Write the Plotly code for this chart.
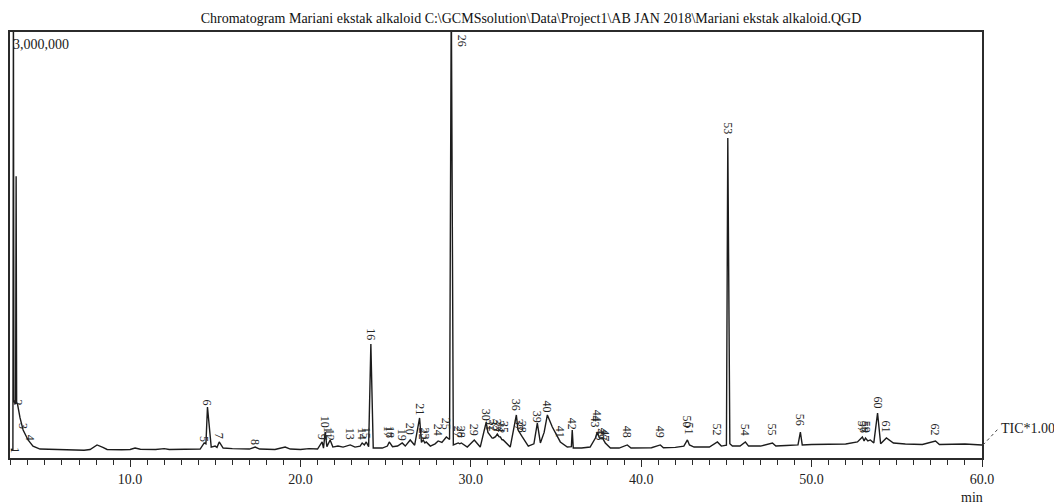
import plotly.graph_objects as go

# ---------------- data ----------------
title_text = ("Chromatogram Mariani ekstak alkaloid C:\\GCMSsolution\\Data\\Project1"
              "\\AB JAN 2018\\Mariani ekstak alkaloid.QGD")
full_scale = 3000000
x_range = [2.95, 60.0]
x_tick_values = [10, 20, 30, 40, 50, 60]
x_tick_labels = ["10.0", "20.0", "30.0", "40.0", "50.0", "60.0"]

trace_time = [
    3.00, 3.12, 3.15, 3.18, 3.28, 3.31, 3.34, 3.39, 3.54, 3.72, 4.01, 4.30, 4.71,
    5.5, 6.5, 7.3, 7.65, 8.06, 8.4, 8.65, 9.5, 10.0, 10.29, 10.6, 11.5, 12.0, 12.3,
    13.2, 13.6, 14.11, 14.35, 14.45, 14.54, 14.76, 14.99, 15.1, 15.23, 15.46, 16.0,
    16.5, 17.0, 17.34, 17.6, 18.5, 19.1, 19.4, 20.0, 20.5, 21.0, 21.27, 21.35, 21.45,
    21.55, 21.74, 21.9, 22.2, 22.5, 22.92, 23.2, 23.5, 23.62, 23.75, 23.86, 24.0,
    24.13, 24.27, 24.8, 25.1, 25.21, 25.4, 25.7, 25.97, 26.15, 26.44, 26.7, 26.99,
    27.1, 27.20, 27.3, 27.38, 27.62, 27.9, 28.08, 28.3, 28.56, 28.75, 28.85, 28.97,
    29.26, 29.35, 29.44, 29.79, 30.20, 30.55, 30.90, 31.0, 31.14, 31.25, 31.32, 31.45,
    31.55, 31.65, 31.73, 31.82, 31.90, 32.31, 32.67, 32.76, 32.84, 32.95, 33.02, 33.37,
    33.7, 33.90, 34.08, 34.3, 34.49, 34.78, 35.07, 35.25, 35.66, 35.9, 35.95, 36.01,
    36.5, 37.0, 37.31, 37.42, 37.55, 37.72, 37.89, 38.19, 38.7, 39.18, 39.4, 40.0,
    40.6, 41.12, 41.3, 42.0, 42.5, 42.71, 42.83, 43.1, 44.0, 44.47, 44.7, 45.0, 45.08,
    45.2, 45.35, 45.8, 46.11, 46.3, 47.0, 47.70, 47.9, 48.5, 49.2, 49.34, 49.45, 50.0,
    51.0, 52.0, 52.69, 52.98, 53.08, 53.16, 53.3, 53.45, 53.65, 53.87, 54.05, 54.39,
    54.80, 55.5, 56.5, 57.27, 57.5, 58.5, 59.0, 60.0,
]
trace_intensity = [
    60000, 60000, 3300000, 400000, 380000, 1985000, 390000, 380000, 282000, 197000,
    127000, 84000, 63000,
    60000, 58000, 55000, 60000, 92000, 75000, 60000, 58000, 60000, 70000, 62000, 60000,
    66000, 60000,
    63000, 60000, 63000, 106000, 100000, 359000, 77000, 84000, 75000, 113000, 70000,
    66000,
    63000, 63000, 77000, 63000, 60000, 77000, 63000, 60000, 66000, 63000, 113000,
    70000, 183000,
    80000, 127000, 77000, 84000, 77000, 92000, 77000, 84000, 106000, 92000, 113000,
    80000,
    803000, 70000, 70000, 84000, 113000, 80000, 84000, 106000, 84000, 127000, 90000,
    282000,
    110000, 127000, 106000, 113000, 84000, 100000, 120000, 110000, 148000, 130000,
    3300000, 92000,
    106000, 100000, 106000, 77000, 127000, 77000, 253000, 180000, 162000, 140000,
    141000, 150000,
    169000, 150000, 148000, 130000, 127000, 77000, 303000, 200000, 183000, 160000,
    148000, 84000,
    100000, 246000, 106000, 180000, 303000, 218000, 148000, 113000, 77000, 80000,
    197000, 70000,
    70000, 77000, 141000, 183000, 140000, 141000, 106000, 70000, 70000, 92000, 70000,
    70000,
    72000, 92000, 72000, 75000, 84000, 127000, 92000, 77000, 77000, 113000, 84000,
    90000, 2253000,
    100000, 84000, 84000, 113000, 84000, 84000, 106000, 84000, 88000, 92000, 183000,
    92000, 95000,
    99000, 99000, 113000, 148000, 120000, 141000, 120000, 127000, 106000, 317000,
    100000, 141000,
    106000, 99000, 95000, 120000, 95000, 95000, 99000, 92000,
]

peak_ids = list(range(1, 63))
label_times = [
    3.24, 3.39, 3.72, 4.13, 14.33, 14.54, 15.23, 17.34, 21.27, 21.45,
    21.62, 21.74, 22.92, 23.62, 23.86, 24.13, 25.15, 25.25, 25.97, 26.44,
    26.99, 27.20, 27.33, 28.08, 28.56, 29.50, 29.26, 29.44, 30.20, 30.90,
    31.14, 31.32, 31.55, 31.73, 31.90, 32.67, 32.84, 33.02, 33.90, 34.49,
    35.25, 35.95, 37.31, 37.42, 37.60, 37.72, 37.85, 39.18, 41.12, 42.71,
    42.83, 44.47, 45.08, 46.11, 47.70, 49.34, 52.98, 53.08, 53.20, 53.87,
    54.39, 57.27,
]
label_heights = [
    20000, 359000, 190000, 106000, 99000, 352000, 120000, 77000, 113000, 197000,
    120000, 106000, 113000, 113000, 120000, 817000, 127000, 127000, 106000, 148000,
    289000, 113000, 113000, 141000, 183000, 3000000, 127000, 127000, 141000, 246000,
    176000, 170000, 176000, 165000, 160000, 317000, 176000, 162000, 232000, 303000,
    127000, 183000, 197000, 240000, 106000, 112000, 106000, 127000, 127000, 197000,
    148000, 141000, 2267000, 141000, 141000, 211000, 162000, 162000, 162000, 338000,
    162000, 141000,
]

# ---------------- figure ----------------
serif = "Liberation Serif"
ink = "#2b2b2b"
W, H = 1054, 504
ml, mr, mt, mb = 10, 72, 32, 46
pw, ph = W - ml - mr, H - mt - mb

fig = go.Figure()
fig.add_trace(go.Scatter(
    x=trace_time, y=trace_intensity, mode="lines",
    line=dict(color="#1c1c1c", width=1.4), hoverinfo="skip", showlegend=False,
))

for pid, t, h in zip(peak_ids, label_times, label_heights):
    at_top = h >= full_scale
    fig.add_annotation(
        x=t, y=h, xref="x", yref="y", text=str(pid), textangle=90,
        showarrow=False, xanchor="center",
        yanchor="top" if at_top else "bottom",
        yshift=-1 if at_top else 0,
        font=dict(family=serif, size=12, color="#252525"),
    )

# y full-scale label
fig.add_annotation(
    x=0, y=1, xref="paper", yref="paper", text="3,000,000", showarrow=False,
    xanchor="left", yanchor="top", xshift=1, yshift=-3,
    font=dict(family=serif, size=14, color="#1a1a1a"),
)

# TIC*1.00 marker with dotted leader
def px_to_paper(px, py):
    return (px - ml) / pw, (H - mb - py) / ph

tx0, ty0 = px_to_paper(983, 445)
tx1, ty1 = px_to_paper(998, 429)
fig.add_shape(type="line", xref="paper", yref="paper", x0=tx0, y0=ty0, x1=tx1, y1=ty1,
              line=dict(color="#444444", width=1, dash="dot"))
ax_, ay_ = px_to_paper(999, 428)
fig.add_annotation(
    x=ax_, y=ay_, xref="paper", yref="paper", text="TIC*1.00", showarrow=False,
    xanchor="left", yanchor="middle",
    font=dict(family=serif, size=14, color="#1a1a1a"),
)
mx_, my_ = px_to_paper(972, 497)
fig.add_annotation(
    x=mx_, y=my_, xref="paper", yref="paper", text="min", showarrow=False,
    xanchor="center", yanchor="middle",
    font=dict(family=serif, size=14, color="#1a1a1a"),
)

fig.update_layout(
    width=W, height=H,
    margin=dict(l=ml, r=mr, t=mt, b=mb, pad=0),
    paper_bgcolor="white", plot_bgcolor="white",
    title=dict(text=title_text, x=531 / W, xref="container", xanchor="center",
               y=1 - 18 / H, yref="container", yanchor="middle",
               font=dict(family=serif, size=14, color="#111111")),
    xaxis=dict(
        range=x_range, showgrid=False, zeroline=False,
        showline=True, mirror=True, linecolor=ink, linewidth=1.5,
        ticks="outside", ticklen=7, tickwidth=1, tickcolor=ink,
        tickvals=x_tick_values, ticktext=x_tick_labels,
        tickfont=dict(family=serif, size=14, color="#222222"),
        minor=dict(dtick=1, tick0=0, ticks="outside", ticklen=5, tickwidth=1, tickcolor=ink),
    ),
    yaxis=dict(
        range=[0, full_scale], showgrid=False, zeroline=False,
        showline=True, mirror=True, linecolor=ink, linewidth=1.5,
        showticklabels=False, ticks="",
    ),
    showlegend=False,
)

fig.write_html("out.html", config={"displayModeBar": False},
               post_script="document.body.style.margin='0';document.body.style.overflow='hidden';")
